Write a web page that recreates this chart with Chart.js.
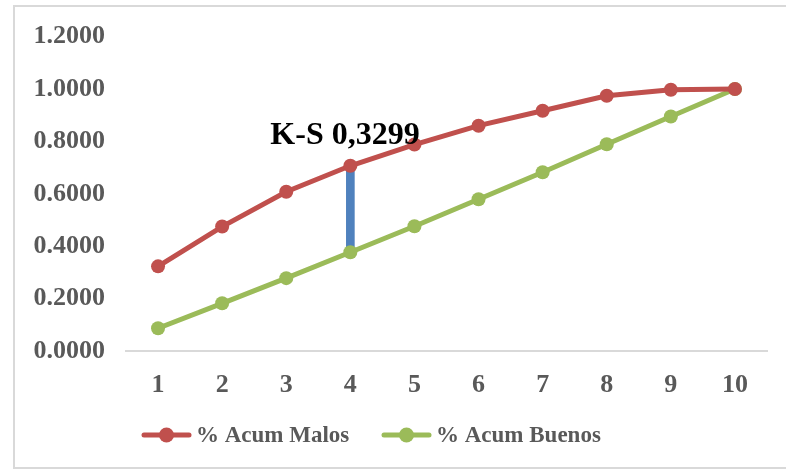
<!DOCTYPE html>
<html>
<head>
<meta charset="utf-8">
<script src="https://cdn.jsdelivr.net/npm/chart.js@4/dist/chart.umd.min.js"></script>
<style>
    html, body { margin: 0; padding: 0; background: #fff; }
    #wrap { position: relative; width: 786px; height: 473px; overflow: hidden; }
    #frame { position: absolute; left: 13px; top: 5px; width: 790px; height: 464px; border: 2px solid #d9d9d9; box-sizing: border-box; }
    #chart { position: absolute; left: 0; top: 0; }
</style>
</head>
<body>
<div id="wrap">
    <div id="frame"></div>
    <canvas id="chart" width="786" height="473"></canvas>
</div>
<script>
// Deciles
const labels = ['1', '2', '3', '4', '5', '6', '7', '8', '9', '10'];
// % acumulado de malos / buenos
const acumMalos = [0.3230, 0.4750, 0.6080, 0.7070, 0.7880, 0.8600, 0.9170, 0.9740, 0.9970, 1.0000];
const acumBuenos = [0.0870, 0.1820, 0.2780, 0.3771, 0.4760, 0.5790, 0.6820, 0.7890, 0.8950, 1.0000];
// Punto de máxima diferencia (K-S)
const ksIndex = 3;
const ksLabel = 'K-S 0,3299';
const yTicks = [0, 0.2, 0.4, 0.6, 0.8, 1.0, 1.2];

const RED = '#c0504d';
const GREEN = '#9bbb59';
const BLUE = '#4f81bd';
const TXT = '#595959';
const FONT = "'Liberation Serif', 'Times New Roman', serif";

// barra flotante entre ambas curvas en el decil K-S
const ksBar = labels.map((_, i) => i === ksIndex ? [acumBuenos[i], acumMalos[i]] : null);

// Texto K-S + leyenda dibujada a mano (línea con punto)
const ksPlugin = {
    id: 'ksPlugin',
    afterDraw(chart) {
        const { ctx, scales: { x, y } } = chart;
        ctx.save();
        ctx.fillStyle = '#000';
        ctx.font = `bold 32px ${FONT}`;
        ctx.textAlign = 'left';
        ctx.textBaseline = 'alphabetic';
        ctx.fillText(ksLabel, x.getPixelForValue(ksIndex) - 80, y.getPixelForValue(acumMalos[ksIndex]) - 22);

        // leyenda
        const items = [
            { text: '% Acum Malos', color: RED, x0: 142 },
            { text: '% Acum Buenos', color: GREEN, x0: 382 }
        ];
        const ly = 435;
        ctx.font = `bold 23px ${FONT}`;
        ctx.textBaseline = 'middle';
        items.forEach(it => {
            ctx.strokeStyle = it.color;
            ctx.lineWidth = 5;
            ctx.lineCap = 'round';
            ctx.beginPath();
            ctx.moveTo(it.x0 + 2, ly);
            ctx.lineTo(it.x0 + 47, ly);
            ctx.stroke();
            ctx.fillStyle = it.color;
            ctx.beginPath();
            ctx.arc(it.x0 + 24.5, ly, 7.5, 0, Math.PI * 2);
            ctx.fill();
            ctx.fillStyle = TXT;
            ctx.fillText(it.text, it.x0 + 54, ly + 1);
        });
        ctx.restore();
    }
};

new Chart(document.getElementById('chart'), {
    type: 'line',
    data: {
        labels: labels,
        datasets: [
            {
                label: '% Acum Malos',
                data: acumMalos,
                borderColor: RED,
                backgroundColor: RED,
                borderWidth: 5,
                pointRadius: 7,
                pointBorderWidth: 0,
                tension: 0,
                order: 1
            },
            {
                label: '% Acum Buenos',
                data: acumBuenos,
                borderColor: GREEN,
                backgroundColor: GREEN,
                borderWidth: 5,
                pointRadius: 7,
                pointBorderWidth: 0,
                tension: 0,
                order: 2
            },
            {
                type: 'bar',
                label: 'K-S',
                data: ksBar,
                backgroundColor: BLUE,
                barThickness: 8,
                order: 3
            }
        ]
    },
    options: {
        responsive: false,
        animation: false,
        layout: { padding: { top: 36, right: 19, bottom: 0, left: 0 } },
        plugins: {
            legend: { display: false },
            tooltip: { enabled: false }
        },
        scales: {
            x: {
                offset: true,
                grid: { display: false, drawTicks: false },
                border: { display: true, color: '#d9d9d9', width: 2 },
                ticks: { color: TXT, font: { family: FONT, size: 26, weight: 'bold' }, padding: 19 },
                afterFit(scale) { scale.height = 122; }
            },
            y: {
                min: 0,
                max: 1.2,
                afterBuildTicks(scale) { scale.ticks = yTicks.map(v => ({ value: v })); },
                grid: { display: false, drawTicks: false },
                border: { display: false },
                ticks: {
                    color: TXT,
                    font: { family: FONT, size: 26, weight: 'bold' },
                    padding: 21,
                    callback: v => Number(v).toFixed(4)
                },
                afterFit(scale) { scale.width = 126; }
            }
        }
    },
    plugins: [ksPlugin]
});
</script>
</body>
</html>
